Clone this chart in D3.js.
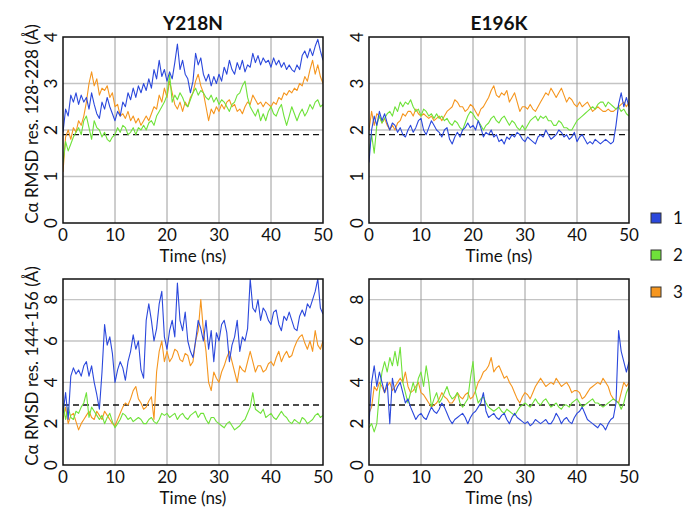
<!DOCTYPE html>
<html>
<head>
<meta charset="utf-8">
<script src="https://cdn.jsdelivr.net/npm/d3@7/dist/d3.min.js"></script>
<style>
  html, body { margin: 0; padding: 0; background: #fff; }
  svg text { font-family: Lato, "Open Sans", sans-serif; fill: #111; }
</style>
</head>
<body>
<svg id="chart" width="700" height="528"></svg>
<script>
// ---------- data ----------
const timeStep = 0.5;           // ns between samples
const xTicks = [0, 10, 20, 30, 40, 50];
const yTicksTop = [0, 1, 2, 3, 4];
const yTicksBottom = [0, 2, 4, 6, 8];
const mutants = ["Y218N", "E196K"];
const seriesNames = ["1", "2", "3"];
const refTop = 1.9;      // dashed reference, res. 128-228
const refBottom = 2.9;   // dashed reference, res. 144-156

// Y218N, res. 128-228
const y218nTop1 = [1.95,2.45,2.3,2.75,2.6,2.8,2.55,2.75,2.6,2.7,2.45,2.8,2.55,2.35,2.25,2.6,2.45,2.7,2.5,2.35,2.2,2.4,2.3,2.6,2.5,2.8,2.65,2.9,2.7,2.95,2.8,3.0,2.85,3.1,2.9,3.3,3.1,3.5,3.15,3.3,3.05,3.25,3.1,3.45,3.85,3.3,3.5,3.2,3.1,2.8,3.05,3.65,3.4,3.55,3.2,3.05,3.2,2.95,3.15,3.0,3.2,3.05,3.35,3.2,3.5,3.3,3.2,3.45,3.3,3.5,3.25,3.4,3.35,3.65,3.45,3.6,3.4,3.55,3.45,3.5,3.35,3.55,3.4,3.5,3.35,3.45,3.3,3.4,3.3,3.25,3.4,3.3,3.6,3.7,3.55,3.75,3.6,3.8,3.95,3.7,3.5];
const y218nTop2 = [1.3,1.75,1.55,1.7,1.85,1.95,2.05,1.9,2.2,2.3,2.05,1.8,2.2,2.05,2.0,1.85,1.95,1.8,1.75,1.85,1.9,2.05,1.95,2.1,2.05,1.9,1.95,2.05,1.9,2.05,2.0,2.1,2.0,2.15,2.2,2.1,2.3,2.4,2.5,2.6,2.75,3.2,2.6,2.75,2.65,2.8,2.7,2.55,2.5,2.65,2.8,2.9,2.75,2.85,2.8,2.7,2.65,2.75,2.6,2.7,2.55,2.65,2.6,2.5,2.4,2.55,2.6,2.75,2.8,2.95,3.05,2.7,2.5,2.4,2.3,2.45,2.2,2.35,2.2,2.4,2.5,2.35,2.3,2.45,2.55,2.3,2.1,2.3,2.5,2.35,2.2,2.35,2.45,2.3,2.4,2.55,2.45,2.6,2.65,2.5,2.55];
const y218nTop3 = [1.1,1.85,2.0,1.8,2.05,1.95,2.2,2.1,2.3,2.6,3.0,3.25,2.95,3.1,2.75,2.9,2.85,2.95,2.7,2.8,2.5,2.55,2.3,2.35,2.25,2.4,2.2,2.3,2.15,2.25,2.1,2.2,2.3,2.2,2.35,2.5,2.45,2.75,2.6,2.9,2.7,3.05,2.8,2.55,2.45,2.6,2.4,2.6,2.5,2.7,2.8,3.05,3.2,2.95,2.8,2.5,2.2,2.45,2.35,2.5,2.4,2.55,2.45,2.6,2.65,2.5,2.55,2.4,2.45,2.35,2.5,2.6,2.55,2.75,2.65,2.55,2.6,2.5,2.6,2.55,2.5,2.6,2.55,2.7,2.65,2.8,2.75,2.85,2.8,2.9,2.85,3.0,2.95,3.15,3.05,3.3,3.5,3.2,3.4,3.15,3.0];

// E196K, res. 128-228
const e196kTop1 = [1.3,2.0,2.3,2.1,2.4,2.2,2.35,2.15,2.0,2.15,2.1,1.95,2.05,1.9,1.85,2.0,2.1,1.95,2.05,2.2,2.25,2.0,1.9,2.05,2.2,2.1,2.0,1.95,1.85,2.0,2.05,1.8,1.7,1.85,1.95,1.85,2.0,2.05,2.15,2.05,2.1,2.0,2.2,2.05,1.85,1.95,1.9,2.0,1.85,1.9,1.75,1.8,1.7,1.85,1.8,1.9,1.85,1.95,1.9,1.8,1.75,1.85,1.8,1.75,1.7,1.85,1.9,1.85,2.0,1.9,1.8,1.85,1.9,2.0,1.95,1.85,1.9,1.8,1.85,1.95,1.75,1.85,1.9,1.8,1.7,1.75,1.7,1.8,1.75,1.7,1.75,1.8,1.75,1.7,1.75,2.1,2.55,2.8,2.5,2.7,2.5];
const e196kTop2 = [1.5,1.9,1.5,2.1,2.3,2.15,2.25,2.35,2.4,2.3,2.5,2.4,2.6,2.5,2.6,2.55,2.65,2.5,2.4,2.45,2.3,2.45,2.4,2.3,2.35,2.25,2.35,2.25,2.3,2.2,2.25,2.15,2.1,2.2,2.15,2.05,2.0,2.15,2.3,2.4,2.35,2.25,2.2,2.1,2.0,2.1,2.15,2.25,2.3,2.2,2.15,2.25,2.3,2.2,2.1,2.2,2.15,2.05,2.0,2.1,2.0,2.1,2.2,2.25,2.3,2.2,2.3,2.25,2.3,2.2,2.2,2.1,2.1,2.2,2.15,2.05,2.05,2.0,2.0,2.1,2.2,2.25,2.3,2.35,2.4,2.45,2.5,2.45,2.55,2.6,2.6,2.5,2.6,2.55,2.5,2.45,2.5,2.4,2.45,2.35,2.3];
const e196kTop3 = [2.0,2.4,2.1,2.35,2.3,2.15,2.25,2.1,2.0,2.1,2.0,2.15,2.2,2.35,2.3,2.4,2.4,2.3,2.45,2.35,2.3,2.35,2.3,2.25,2.3,2.2,2.25,2.3,2.2,2.3,2.4,2.45,2.5,2.65,2.6,2.5,2.5,2.4,2.45,2.55,2.5,2.4,2.3,2.45,2.5,2.6,2.7,2.85,2.95,2.75,2.7,2.8,2.75,2.85,2.6,2.7,2.8,2.6,2.4,2.5,2.5,2.45,2.55,2.45,2.4,2.5,2.6,2.7,2.8,2.75,2.9,2.8,2.7,2.8,2.9,2.75,2.6,2.7,2.65,2.55,2.5,2.6,2.5,2.55,2.6,2.5,2.4,2.45,2.5,2.45,2.4,2.4,2.45,2.4,2.4,2.45,2.5,2.55,2.6,2.5,2.6];

// Y218N, res. 144-156
const y218nBot1 = [2.5,3.5,2.2,4.3,4.7,4.4,4.6,4.3,4.8,5.0,4.3,4.8,4.0,3.4,2.7,4.5,6.8,5.8,6.2,5.4,4.0,4.6,5.0,4.7,4.1,5.0,5.5,6.3,5.6,6.0,4.6,4.2,7.0,7.8,7.0,6.0,6.6,7.8,8.4,6.2,5.6,6.5,7.0,6.2,8.8,7.0,6.5,7.4,6.0,5.5,5.2,6.0,7.0,6.6,6.0,7.0,5.6,6.5,5.0,6.4,6.0,6.8,7.0,6.4,5.0,5.8,6.2,7.0,5.5,6.2,6.0,6.6,9.0,7.6,7.4,8.0,7.0,7.6,7.4,7.0,6.8,7.4,7.5,6.8,6.5,7.2,7.0,7.4,7.0,6.6,6.5,7.2,7.5,7.2,7.8,7.6,8.0,8.4,9.0,7.6,7.3];
const y218nBot2 = [3.0,2.2,2.8,2.3,2.2,2.6,2.5,2.8,3.0,3.5,2.3,2.8,2.6,2.4,2.2,2.4,2.0,2.3,2.5,2.1,1.8,2.0,2.2,2.5,2.4,2.2,2.3,2.1,2.2,2.3,2.2,2.0,2.0,2.2,2.3,2.1,2.0,2.2,2.5,2.4,2.5,2.3,2.4,2.5,2.2,2.4,2.5,2.3,2.2,2.4,2.5,2.6,2.3,2.5,2.5,2.2,2.0,2.3,2.3,2.1,2.0,1.9,1.8,2.0,2.1,1.9,1.7,1.8,1.9,2.1,2.2,2.5,2.8,3.5,2.7,2.6,2.5,2.7,2.3,2.4,2.5,2.3,2.2,2.4,2.6,2.4,2.3,2.1,2.0,2.2,2.1,2.0,2.3,2.2,2.0,2.1,2.2,2.4,2.5,2.3,2.4];
const y218nBot3 = [2.2,2.8,2.0,2.4,2.5,2.1,1.7,2.0,2.2,2.4,2.6,2.3,2.2,2.6,2.4,2.2,2.6,2.4,2.2,2.0,1.9,2.2,2.5,2.8,3.0,2.9,3.2,3.6,3.8,3.2,3.0,2.7,2.8,3.1,3.3,2.2,4.5,5.5,6.0,5.0,5.5,5.0,5.2,5.6,5.5,5.1,5.0,5.4,5.3,4.8,5.0,6.0,6.5,8.0,6.5,5.5,4.0,3.6,4.5,4.2,4.0,4.5,4.8,5.2,5.5,5.0,4.5,4.0,4.8,4.6,4.5,5.0,5.5,5.0,4.5,4.8,4.8,4.5,4.6,4.9,5.0,4.8,5.2,5.5,5.0,5.3,5.5,5.2,5.3,5.7,6.0,6.2,6.3,5.9,5.6,6.0,5.5,6.5,5.8,5.6,6.0];

// E196K, res. 144-156
const e196kBot1 = [2.0,4.0,4.8,3.8,4.5,4.0,3.5,4.0,2.0,4.2,3.5,3.8,4.0,3.5,3.0,3.2,2.8,2.5,2.2,2.4,2.5,2.3,2.2,2.5,2.8,2.6,2.5,2.7,3.0,2.8,2.5,2.2,2.0,2.2,2.3,2.4,2.5,2.3,2.0,2.3,2.5,2.6,2.8,3.0,3.5,2.6,2.3,2.4,2.5,2.3,2.2,2.4,2.5,2.2,2.0,2.3,2.5,2.3,2.2,2.1,2.0,2.1,1.9,2.0,2.2,2.1,2.0,2.1,2.2,2.0,2.0,2.2,2.5,2.3,2.0,2.2,2.3,2.1,2.0,2.3,2.5,2.6,2.8,2.5,2.2,2.1,2.0,1.9,1.8,2.0,1.9,1.7,2.0,2.2,2.3,3.0,6.5,5.5,5.0,4.5,5.0];
const e196kBot2 = [1.8,2.0,1.6,2.0,3.5,4.5,5.0,4.5,5.2,4.8,5.5,4.8,5.7,4.0,3.5,3.0,3.5,4.0,3.5,4.2,4.5,3.8,4.8,4.0,2.8,3.2,3.5,3.0,3.2,3.5,3.8,3.4,3.2,3.3,3.5,3.0,2.8,3.0,3.2,4.2,5.0,3.5,3.0,3.2,3.3,3.0,2.8,2.7,2.6,2.7,2.8,2.6,2.5,2.7,2.6,2.5,2.4,2.6,2.8,2.9,3.0,2.9,2.8,3.0,3.2,3.0,2.9,3.1,3.2,3.0,2.8,2.9,3.0,2.8,2.7,2.9,2.9,2.8,3.0,3.1,3.2,3.0,2.8,2.9,3.0,3.1,3.2,3.0,3.0,2.9,2.8,2.9,3.0,3.1,3.2,3.1,3.0,2.7,3.0,3.5,3.8];
const e196kBot3 = [2.5,2.8,3.8,3.6,4.0,3.8,3.5,3.8,4.0,3.6,3.8,4.0,4.2,4.0,4.5,3.8,3.5,3.6,3.8,4.0,3.5,3.4,3.2,3.0,2.8,2.9,3.0,3.2,3.5,3.3,3.2,3.0,3.0,3.2,3.5,3.3,3.2,3.4,3.5,3.2,3.3,3.6,4.0,4.2,4.5,4.6,4.8,5.2,4.5,4.7,4.8,4.5,4.2,4.3,4.0,3.8,3.5,3.2,3.0,3.3,3.5,3.4,3.2,3.5,3.8,4.0,4.2,4.0,3.8,3.9,4.0,3.9,4.2,4.0,3.8,3.9,4.0,3.8,3.5,3.6,3.6,3.5,3.2,3.3,3.5,3.7,3.8,3.9,4.0,3.9,4.2,4.0,3.8,3.4,3.2,3.1,3.0,3.5,4.0,3.8,4.0];

const colors = ["#2b48dc", "#6fe23a", "#f5961f"];

// ---------- layout ----------
const svg = d3.select("#chart");
const W = 260, Htop = 186;
const cols = [63, 369];
const rows = [37, 279];

const panels = [
  { col: 0, row: 0, series: [y218nTop1, y218nTop2, y218nTop3], yMax: 4, yTicks: yTicksTop, ref: refTop, title: mutants[0], ylabel: "Cα RMSD res. 128-228 (Å)" },
  { col: 1, row: 0, series: [e196kTop1, e196kTop2, e196kTop3], yMax: 4, yTicks: yTicksTop, ref: refTop, title: mutants[1] },
  { col: 0, row: 1, series: [y218nBot1, y218nBot2, y218nBot3], yMax: 9, yTicks: yTicksBottom, ref: refBottom, ylabel: "Cα RMSD res. 144-156 (Å)" },
  { col: 1, row: 1, series: [e196kBot1, e196kBot2, e196kBot3], yMax: 9, yTicks: yTicksBottom, ref: refBottom }
];

panels.forEach(p => {
  const x0 = cols[p.col], y0 = rows[p.row];
  const x = d3.scaleLinear().domain([0, 50]).range([x0, x0 + W]);
  const y = d3.scaleLinear().domain([0, p.yMax]).range([y0 + Htop, y0]);
  const g = svg.append("g");

  const clipId = "clip" + p.col + p.row;
  svg.append("clipPath").attr("id", clipId)
    .append("rect").attr("x", x0).attr("y", y0).attr("width", W).attr("height", Htop);

  // grid
  g.selectAll(".hg").data(p.yTicks.filter(t => t > 0 && t < p.yMax)).enter()
    .append("line").attr("x1", x0).attr("x2", x0 + W)
    .attr("y1", d => y(d)).attr("y2", d => y(d))
    .attr("stroke", "#c4c4c4").attr("stroke-width", 1.4);
  g.selectAll(".vg").data(xTicks.filter(t => t > 0 && t < 50)).enter()
    .append("line").attr("y1", y0).attr("y2", y0 + Htop)
    .attr("x1", d => x(d)).attr("x2", d => x(d))
    .attr("stroke", "#9c9c9c").attr("stroke-width", 1);

  // reference dashed line
  g.append("line").attr("x1", x(0)).attr("x2", x(50))
    .attr("y1", y(p.ref)).attr("y2", y(p.ref))
    .attr("stroke", "#111").attr("stroke-width", 1.4).attr("stroke-dasharray", "6,4");

  // series: drawn orange, green, blue (blue on top)
  const line = d3.line().x((d, i) => x(i * timeStep)).y(d => y(d));
  [2, 1, 0].forEach(si => {
    g.append("path").datum(p.series[si])
      .attr("d", line).attr("fill", "none")
      .attr("stroke", colors[si]).attr("stroke-width", 1.1)
      .attr("stroke-linejoin", "round")
      .attr("clip-path", `url(#${clipId})`);
  });

  // frame
  g.append("rect").attr("x", x0).attr("y", y0).attr("width", W).attr("height", Htop)
    .attr("fill", "none").attr("stroke", "#111").attr("stroke-width", 1.5);

  // x tick labels
  g.selectAll(".xt").data(xTicks).enter().append("text")
    .attr("x", d => x(d)).attr("y", y0 + Htop + 18)
    .attr("text-anchor", "middle").attr("font-size", 17).text(d => d);
  g.append("text").attr("x", x0 + W / 2).attr("y", y0 + Htop + 39)
    .attr("text-anchor", "middle").attr("font-size", 17).text("Time (ns)");

  // y tick labels (rotated)
  g.selectAll(".yt").data(p.yTicks).enter().append("text")
    .attr("transform", d => `translate(${x0 - 6},${y(d)}) rotate(-90)`)
    .attr("text-anchor", "middle").attr("font-size", 17).text(d => d);

  if (p.title) {
    g.append("text").attr("x", x0 + W / 2).attr("y", y0 - 7)
      .attr("text-anchor", "middle").attr("font-size", 19).attr("font-weight", "bold")
      .text(p.title);
  }
  if (p.ylabel) {
    g.append("text")
      .attr("transform", `translate(${x0 - 25},${y0 + Htop / 2 - 6}) rotate(-90)`)
      .attr("text-anchor", "middle").attr("font-size", 17).text(p.ylabel);
  }
});

// legend
const legend = svg.append("g");
seriesNames.forEach((name, i) => {
  const ly = 218 + i * 37;
  legend.append("rect").attr("x", 651).attr("y", ly - 5).attr("width", 10).attr("height", 10)
    .attr("fill", colors[i]).attr("stroke", "#333").attr("stroke-width", 1);
  legend.append("text").attr("x", 673).attr("y", ly + 6)
    .attr("font-size", 17).text(name);
});
</script>
</body>
</html>
